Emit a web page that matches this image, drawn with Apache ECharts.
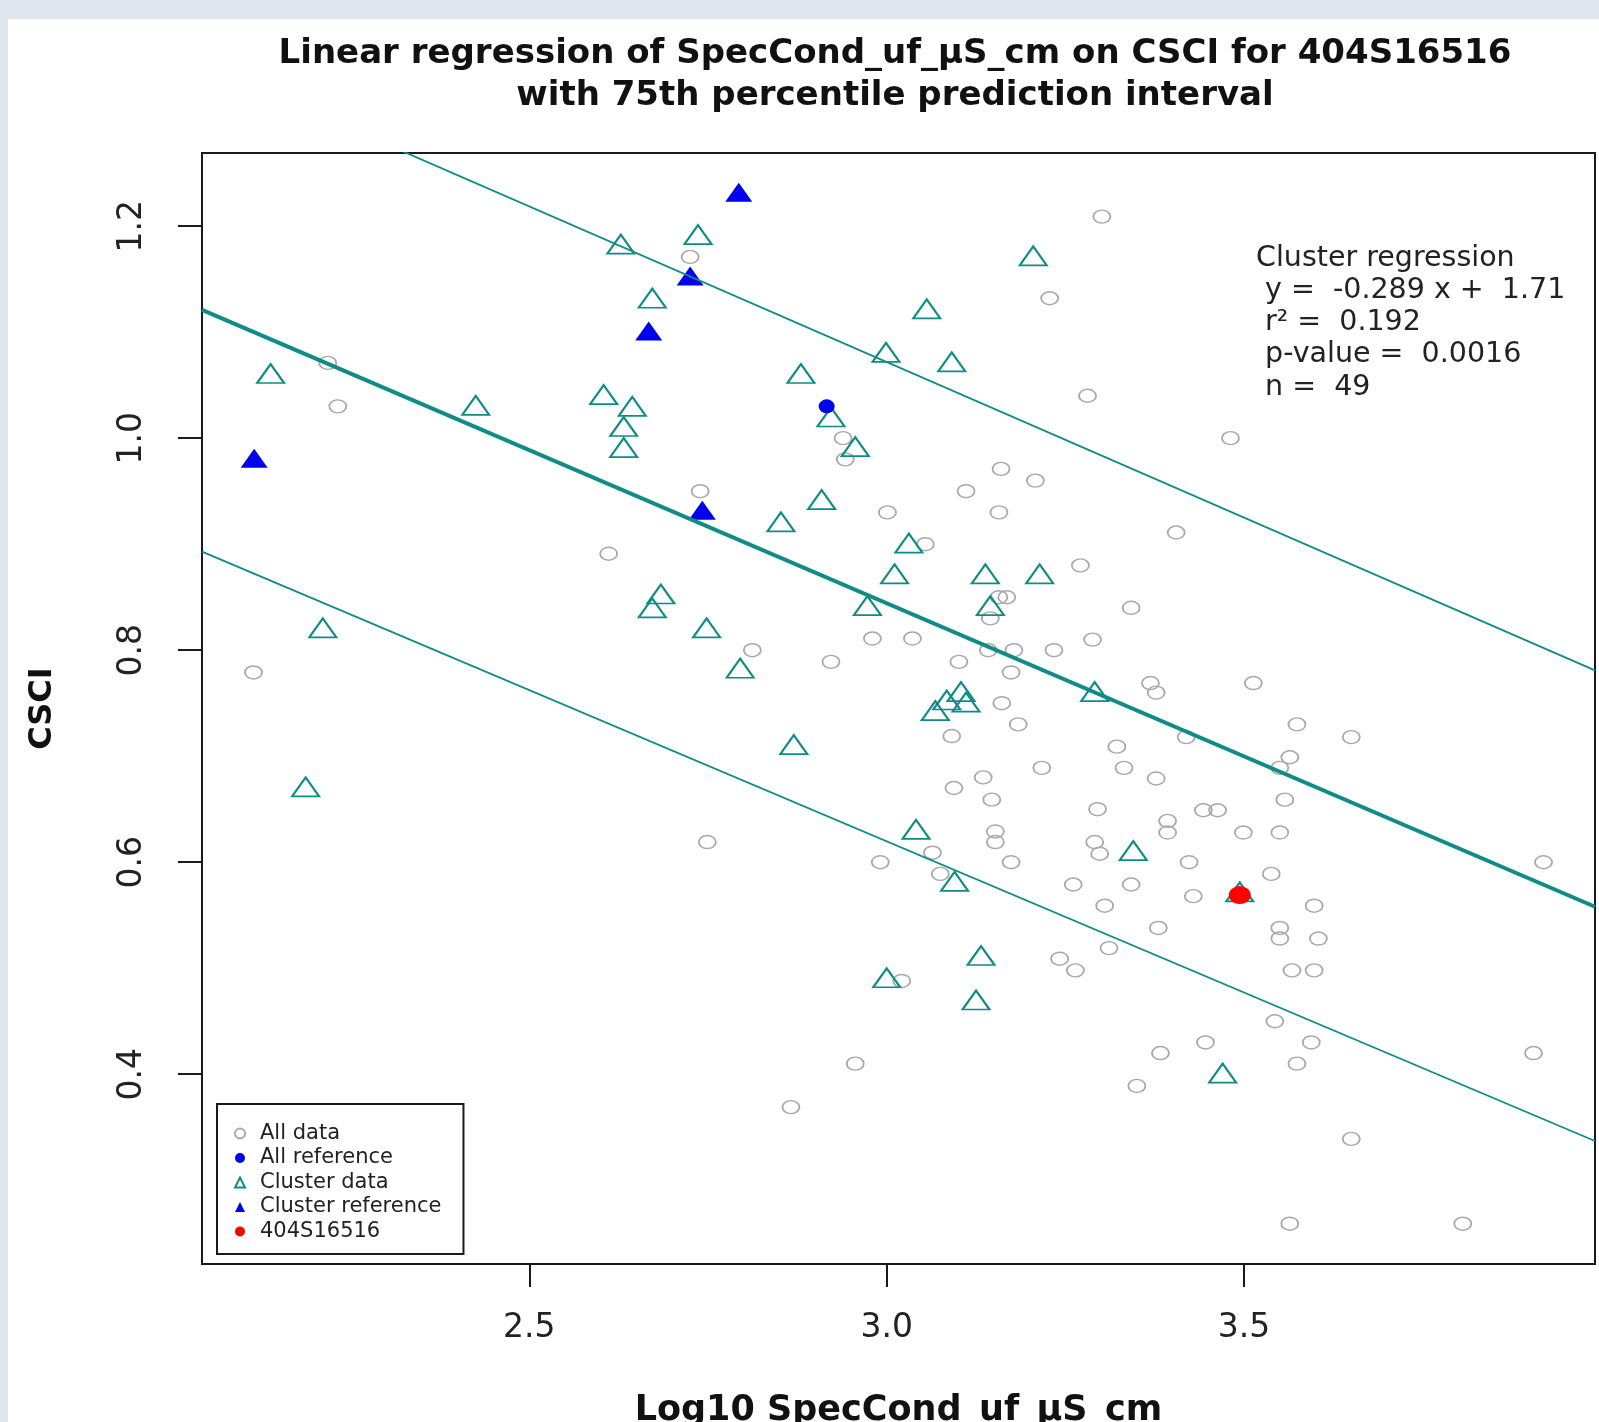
<!DOCTYPE html>
<html>
<head>
<meta charset="utf-8">
<title>Linear regression of SpecCond_uf_µS_cm on CSCI</title>
<script src="https://cdn.jsdelivr.net/npm/echarts@6/dist/echarts.min.js"></script>
<style>
    html, body { margin: 0; padding: 0; background: #dfe6ee; }
    #main { width: 1599px; height: 1422px; }
</style>
</head>
<body>
<div id="main"></div>
<script>
// 标题 / 轴名
var titleLines = ["Linear regression of SpecCond_uf_µS_cm on CSCI for 404S16516", "with 75th percentile prediction interval"];
var xName = "Log10 SpecCond_uf_µS_cm";
var yName = "CSCI";

// 刻度
var xTicks = [2.5, 3.0, 3.5];
var yTicks = [0.4, 0.6, 0.8, 1.0, 1.2];
var xRange = [2.042, 3.991];
var yRange = [0.221, 1.269];

// All data (grey open circles)
var allData = [
    [2.218, 1.071], [2.232, 1.030], [2.114, 0.779], [2.611, 0.891], [2.725, 1.171], [3.301, 1.209],
    [3.228, 1.132], [3.281, 1.040], [3.481, 1.000], [2.939, 1.000], [2.942, 0.980], [3.160, 0.971],
    [3.208, 0.960], [2.739, 0.950], [3.111, 0.950], [3.001, 0.930], [3.157, 0.930], [3.405, 0.911],
    [3.054, 0.900], [3.271, 0.880], [3.157, 0.850], [3.168, 0.850], [3.145, 0.830], [3.342, 0.840],
    [2.812, 0.800], [2.980, 0.811], [3.036, 0.811], [2.922, 0.789], [3.101, 0.789], [3.142, 0.800],
    [3.178, 0.800], [3.234, 0.800], [3.288, 0.810], [3.174, 0.779], [3.369, 0.769], [3.377, 0.760],
    [3.513, 0.769], [3.161, 0.750], [3.184, 0.730], [3.574, 0.730], [3.091, 0.719], [3.322, 0.709],
    [3.419, 0.718], [3.650, 0.718], [3.564, 0.699], [3.550, 0.689], [3.217, 0.689], [3.332, 0.689],
    [3.135, 0.680], [3.377, 0.679], [3.094, 0.670], [3.147, 0.659], [3.557, 0.659], [3.295, 0.650],
    [3.443, 0.649], [3.463, 0.649], [3.393, 0.639], [3.393, 0.628], [3.152, 0.629], [3.152, 0.619],
    [3.291, 0.619], [3.298, 0.608], [3.499, 0.628], [3.550, 0.628], [2.749, 0.619], [3.064, 0.609],
    [2.991, 0.600], [3.174, 0.600], [3.423, 0.600], [3.919, 0.600], [3.075, 0.589], [3.538, 0.589],
    [3.261, 0.579], [3.342, 0.579], [3.429, 0.568], [3.305, 0.559], [3.598, 0.559], [3.380, 0.538],
    [3.550, 0.538], [3.550, 0.528], [3.604, 0.528], [3.311, 0.519], [3.242, 0.509], [3.264, 0.498],
    [3.567, 0.498], [3.598, 0.498], [3.021, 0.488], [3.543, 0.450], [3.446, 0.430], [3.594, 0.430],
    [3.383, 0.420], [3.905, 0.420], [3.574, 0.410], [2.956, 0.410], [3.350, 0.389], [2.866, 0.369],
    [3.650, 0.339], [3.564, 0.259], [3.806, 0.259]
];

// Cluster data (teal open triangles)
var clusterData = [
    [2.628, 1.183], [2.736, 1.192], [3.205, 1.172], [2.672, 1.132], [3.056, 1.122], [2.138, 1.061],
    [2.880, 1.061], [2.999, 1.081], [3.091, 1.072], [2.425, 1.031], [2.604, 1.041], [2.644, 1.030],
    [2.632, 1.011], [2.632, 0.991], [2.922, 1.020], [2.956, 0.992], [2.909, 0.942], [2.852, 0.921],
    [3.031, 0.901], [3.011, 0.872], [3.138, 0.872], [3.214, 0.872], [2.684, 0.853], [2.672, 0.840],
    [2.973, 0.842], [3.145, 0.842], [2.211, 0.821], [2.748, 0.821], [2.795, 0.783], [3.291, 0.761],
    [3.104, 0.761], [3.084, 0.753], [3.111, 0.751], [3.068, 0.743], [2.870, 0.711], [2.187, 0.671],
    [3.041, 0.631], [3.345, 0.611], [3.095, 0.582], [3.132, 0.512], [3.000, 0.491], [3.125, 0.470],
    [3.470, 0.401], [3.494, 0.572]
];

// Cluster reference (blue filled triangles)
var clusterRef = [[2.793, 1.232], [2.725, 1.153], [2.667, 1.101], [2.115, 0.981], [2.742, 0.932]];
// All reference (blue dot)
var allRef = [[2.916, 1.030]];
// 当前站点
var siteData = [[3.494, 0.569]];

// 回归线 + 75th 预测区间 (端点读自图)
var regLine = [[2.042, 1.121], [3.991, 0.558]];
var upperLine = [[2.042, 1.353], [3.991, 0.781]];
var lowerLine = [[2.042, 0.893], [3.991, 0.337]];

// 注释
var annoLines = ["Cluster regression", " y =  -0.289 x +  1.71", " r\u00b2 =  0.192", " p-value =  0.0016", " n =  49"];

var FONT = "DejaVu Sans";
var TEAL = "#0f8c86";
var INK = "#1a1a1a";

var chart = echarts.init(document.getElementById("main"));

var fmt = function(v) {
    return Number(v).toFixed(1);
};

chart.setOption({
    animation: false,
    backgroundColor: "#dfe6ee",
    title: {
        text: titleLines.join("\n"),
        left: 895,
        top: 33,
        textAlign: "center",
        padding: 0,
        textStyle: {
            fontFamily: FONT,
            fontSize: 34,
            fontWeight: "bold",
            lineHeight: 42,
            color: "#111"
        }
    },
    graphic: [{
        type: "rect",
        left: 8,
        top: 19,
        shape: { width: 1591, height: 1403 },
        style: { fill: "#ffffff" },
        z: -10
    }, {
        type: "text",
        left: 1256,
        top: 242,
        z: 10,
        style: {
            text: annoLines.join("\n"),
            fontFamily: FONT,
            fontSize: 28.5,
            lineHeight: 32.3,
            fill: "#222"
        }
    }],
    legend: {
        orient: "vertical",
        left: 217,
        top: 1104,
        padding: [19, 22, 12, 17],
        itemWidth: 10,
        itemHeight: 10,
        itemGap: 3.5,
        selectedMode: false,
        backgroundColor: "#fff",
        borderColor: INK,
        borderWidth: 2,
        borderRadius: 0,
        textStyle: {
            fontFamily: FONT,
            fontSize: 21,
            lineHeight: 21,
            padding: [0, 0, 0, 10],
            color: "#222"
        },
        data: ["All data", "All reference", "Cluster data", "Cluster reference", "404S16516"]
    },
    grid: {
        left: 202,
        right: 4,
        top: 153,
        bottom: 158,
        outerBoundsMode: "none",
        containLabel: false,
        show: true,
        borderColor: INK,
        borderWidth: 2,
        backgroundColor: "rgba(0,0,0,0)"
    },
    xAxis: {
        type: "value",
        min: xRange[0],
        max: xRange[1],
        splitLine: { show: false },
        axisLine: { show: true, lineStyle: { color: INK, width: 2 } },
        axisTick: { show: true, length: 23, customValues: xTicks, lineStyle: { color: INK, width: 2 } },
        axisLabel: {
            customValues: xTicks,
            margin: 48,
            fontFamily: FONT,
            fontSize: 33,
            color: "#222",
            formatter: fmt
        },
        name: xName,
        nameLocation: "middle",
        nameGap: 129,
        nameTextStyle: { fontFamily: FONT, fontSize: 35, fontWeight: "bold", color: "#111" }
    },
    yAxis: {
        type: "value",
        min: yRange[0],
        max: yRange[1],
        splitLine: { show: false },
        axisLine: { show: true, lineStyle: { color: INK, width: 2 } },
        axisTick: { show: true, length: 24, customValues: yTicks, lineStyle: { color: INK, width: 2 } },
        axisLabel: {
            customValues: yTicks,
            rotate: 90,
            margin: 53,
            fontFamily: FONT,
            fontSize: 33,
            color: "#222",
            formatter: fmt
        },
        name: yName,
        nameLocation: "middle",
        nameGap: 143,
        nameTextStyle: { fontFamily: FONT, fontSize: 32, fontWeight: "bold", color: "#111" }
    },
    series: [{
        name: "All data",
        type: "scatter",
        data: allData,
        symbol: "circle",
        symbolSize: [17, 13],
        itemStyle: { color: "rgba(0,0,0,0)", borderColor: "#a9a9a9", borderWidth: 1.6, opacity: 1 },
        z: 2
    }, {
        name: "Cluster data",
        type: "scatter",
        data: clusterData,
        symbol: "triangle",
        symbolSize: [27, 19],
        itemStyle: { color: "rgba(0,0,0,0)", borderColor: TEAL, borderWidth: 2, opacity: 1 },
        z: 3
    }, {
        name: "Cluster reference",
        type: "scatter",
        data: clusterRef,
        symbol: "triangle",
        symbolSize: [27, 19],
        itemStyle: { color: "#0000ee", opacity: 1 },
        z: 4
    }, {
        name: "All reference",
        type: "scatter",
        data: allRef,
        symbol: "circle",
        symbolSize: [16, 14],
        itemStyle: { color: "#0000ee", opacity: 1 },
        z: 4
    }, {
        name: "404S16516",
        type: "scatter",
        data: siteData,
        symbol: "circle",
        symbolSize: [22, 18],
        itemStyle: { color: "#ff0000", opacity: 1 },
        z: 5
    }, {
        name: "regression",
        type: "line",
        data: regLine,
        showSymbol: false,
        silent: true,
        clip: true,
        lineStyle: { color: TEAL, width: 4 },
        z: 6
    }, {
        name: "upper",
        type: "line",
        data: upperLine,
        showSymbol: false,
        silent: true,
        clip: true,
        lineStyle: { color: TEAL, width: 1.8 },
        z: 6
    }, {
        name: "lower",
        type: "line",
        data: lowerLine,
        showSymbol: false,
        silent: true,
        clip: true,
        lineStyle: { color: TEAL, width: 1.8 },
        z: 6
    }]
});
</script>
</body>
</html>
